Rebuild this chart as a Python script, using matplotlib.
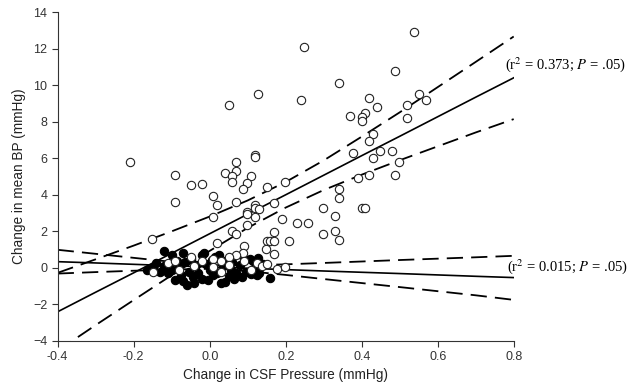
import matplotlib
matplotlib.use("Agg")
import matplotlib.pyplot as plt

plt.rcParams["mathtext.fontset"] = "stix"

# open circles (upper group)
open_x = [0.538, 0.249, 0.488, 0.339, 0.128, 0.239, 0.05, 0.55, 0.569, 0.519, 0.519, 0.419,
          0.409, 0.439, 0.369, 0.40, 0.40, 0.43, 0.419, 0.449, 0.479, 0.378, 0.43, 0.499,
          0.488, 0.419, 0.389, 0.339, 0.339, 0.40, 0.41, 0.299, 0.33, 0.33, 0.299, 0.339,
          0.119, 0.119, 0.11, 0.15, 0.199, 0.169, 0.189, 0.229, 0.259, 0.169, 0.15, 0.16,
          0.17, 0.209, 0.148, 0.17,
          -0.21, -0.09, -0.05, -0.02, -0.09, 0.069, 0.069, 0.04, 0.059, 0.059, 0.099, 0.088,
          0.01, 0.02, 0.069, 0.119, 0.01, 0.12, 0.13, 0.099, 0.099, 0.12, 0.099, -0.153,
          0.06, 0.069, 0.02, 0.09, 0.088, 0.07,
          -0.15, -0.11, -0.09, -0.08, -0.05, -0.04, -0.02, 0.01, 0.01, 0.03, 0.03, 0.05,
          0.05, 0.09, 0.11, 0.124, 0.137, 0.15, 0.178, 0.198]
open_y = [12.9, 12.1, 10.8, 10.1, 9.5, 9.2, 8.9, 9.5, 9.2, 8.9, 8.2, 9.3,
          8.5, 8.8, 8.3, 8.25, 8.05, 7.3, 6.95, 6.4, 6.4, 6.3, 6.0, 5.8,
          5.1, 5.1, 4.9, 4.3, 3.8, 3.3, 3.3, 3.3, 2.85, 2.0, 1.85, 1.55,
          6.2, 6.05, 5.05, 4.45, 4.7, 3.55, 2.65, 2.45, 2.45, 1.95, 1.45, 1.45,
          1.45, 1.45, 1.05, 0.75,
          5.8, 5.1, 4.55, 4.6, 3.6, 5.8, 5.3, 5.2, 5.05, 4.7, 4.65, 4.3,
          3.95, 3.45, 3.6, 3.45, 2.8, 3.25, 3.2, 3.05, 2.95, 2.8, 2.35, 1.6,
          2.0, 1.85, 1.35, 1.2, 0.8, 0.7,
          -0.2, 0.25, 0.35, -0.1, 0.6, 0.1, 0.35, 0.5, 0.05, 0.35, -0.2, 0.6,
          0.15, 0.35, -0.1, 0.25, 0.1, 0.2, -0.05, 0.05]

# filled circles (lower group)
filled_x = [-0.166, -0.14, -0.12, -0.12, -0.11, -0.1, -0.1, -0.09, -0.085, -0.08, -0.075,
            -0.07, -0.07, -0.065, -0.06, -0.055, -0.05, -0.045, -0.04, -0.035, -0.03, -0.02,
            -0.02, -0.015, -0.01, -0.005, 0.0, 0.005, 0.01, 0.015, 0.02, 0.025, 0.03, 0.035,
            0.04, 0.045, 0.05, 0.055, 0.06, 0.065, 0.07, 0.08, 0.085, 0.09, 0.095, 0.105,
            0.11, 0.115, 0.12, 0.125, 0.128, 0.13, 0.14, 0.16, -0.13, -0.15]
filled_y = [-0.1, 0.25, 0.95, 0.1, -0.3, 0.7, -0.1, -0.65, 0.4, 0.1, -0.4,
            0.8, -0.7, 0.3, -0.95, -0.2, 0.5, -0.5, -0.85, 0.15, -0.3, 0.7,
            -0.6, 0.8, 0.2, -0.65, -0.1, 0.45, -0.4, 0.6, -0.3, 0.7, -0.8, 0.1,
            -0.75, 0.45, -0.45, -0.1, 0.3, -0.6, -0.3, 0.15, -0.5, 0.5, -0.2, 0.5,
            -0.35, 0.35, -0.1, -0.4, 0.52, -0.3, 0.2, -0.57, -0.2, 0.05]

# regression lines and 95% bands, read at these x positions
line_x = [-0.4, -0.3, -0.2, -0.1, 0.0, 0.1, 0.2, 0.3, 0.4, 0.5, 0.6, 0.7, 0.8]
open_fit = [-2.4, -1.33, -0.27, 0.80, 1.87, 2.94, 4.0, 5.07, 6.14, 7.2, 8.27, 9.34, 10.4]
open_hi = [-0.27, 0.47, 1.22, 2.0, 2.81, 3.69, 4.70, 5.88, 7.18, 8.51, 9.89, 11.27, 12.66]
open_lo = [-4.53, -3.13, -1.76, -0.40, 0.93, 2.19, 3.30, 4.26, 5.10, 5.89, 6.65, 7.41, 8.14]
filled_fit = [0.34, 0.27, 0.195, 0.12, 0.05, -0.02, -0.095, -0.17, -0.24, -0.31, -0.385, -0.46, -0.53]
filled_hi = [0.99, 0.77, 0.55, 0.33, 0.15, 0.14, 0.195, 0.27, 0.35, 0.43, 0.505, 0.58, 0.66]
filled_lo = [-0.31, -0.23, -0.155, -0.09, -0.05, -0.18, -0.385, -0.61, -0.83, -1.05, -1.275, -1.50, -1.75]

fig = plt.figure(figsize=(6.29, 3.89), dpi=100)
ax = fig.add_axes([0.0917, 0.1234, 0.725, 0.8457])

dash = (9, 4.5)
for fit, hi, lo in [(open_fit, open_hi, open_lo), (filled_fit, filled_hi, filled_lo)]:
    ax.plot(line_x, fit, color="black", lw=1.2, zorder=1)
    ax.plot(line_x, hi, color="black", lw=1.3, dashes=dash, zorder=1)
    ax.plot(line_x, lo, color="black", lw=1.3, dashes=dash, zorder=1)

ax.scatter(filled_x, filled_y, s=36, facecolor="black", edgecolor="black", lw=0.8, zorder=2)
ax.scatter(open_x, open_y, s=36, facecolor="white", edgecolor="#222222", lw=0.8, zorder=3)

ax.set_xlim(-0.4, 0.8)
ax.set_ylim(-4, 14)
ax.set_xticks([-0.4, -0.2, 0.0, 0.2, 0.4, 0.6, 0.8])
ax.set_xticklabels(["-0.4", "-0.2", "0.0", "0.2", "0.4", "0.6", "0.8"])
ax.set_yticks(range(-4, 15, 2))
for s in ["top", "right"]:
    ax.spines[s].set_visible(False)
for s in ["left", "bottom"]:
    ax.spines[s].set_linewidth(0.8)
    ax.spines[s].set_color("#333333")
ax.tick_params(direction="out", length=4, width=0.8, labelsize=9, colors="#333333")
for lab in ax.get_xticklabels() + ax.get_yticklabels():
    lab.set_fontfamily("Liberation Sans")

ax.set_xlabel("Change in CSF Pressure (mmHg)", fontsize=9.8, family="Liberation Sans", color="#222222", labelpad=3)
ax.set_ylabel("Change in mean BP (mmHg)", fontsize=9.8, family="Liberation Sans", color="#222222", labelpad=5)

ax.text(0.778, 11.1, r"(r$^2$ = 0.373; $P$ = .05)", fontsize=10.5, family="Liberation Serif",
        va="center", ha="left", clip_on=False)
ax.text(0.783, 0.1, r"(r$^2$ = 0.015; $P$ = .05)", fontsize=10.5, family="Liberation Serif",
        va="center", ha="left", clip_on=False)

fig.savefig("out.png", dpi=100)
